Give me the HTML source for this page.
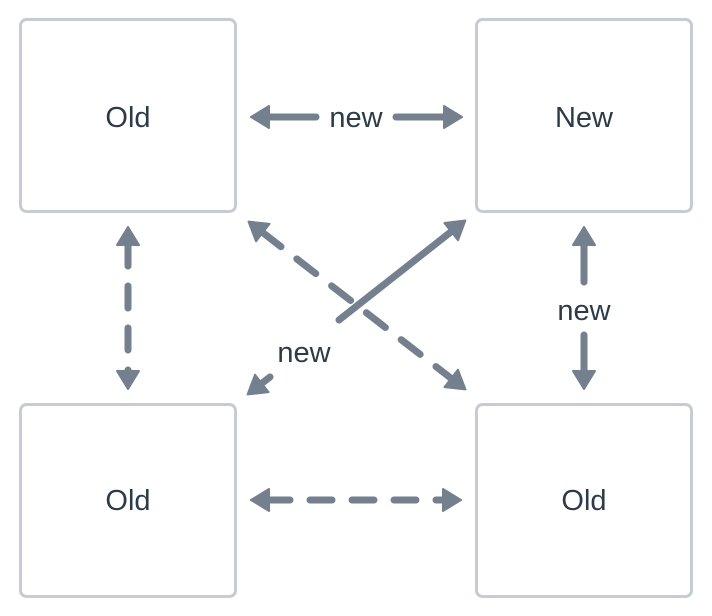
<!DOCTYPE html>
<html><head><meta charset="utf-8"><style>
html,body{margin:0;padding:0;background:#fff;width:712px;height:616px;overflow:hidden}
</style></head><body>
<svg width="712" height="616" viewBox="0 0 712 616" xmlns="http://www.w3.org/2000/svg">
<defs>
<marker id="h" viewBox="-2 -1 24 24" refX="1" refY="11" markerWidth="24" markerHeight="24" markerUnits="userSpaceOnUse" orient="auto-start-reverse">
<path d="M0,0 L18,11 L0,22 Z" fill="#75808e" stroke="#75808e" stroke-width="2" stroke-linejoin="round"/>
</marker>
</defs>
<g fill="#fff" stroke="#c5ccd4" stroke-width="3">
<rect x="20.5" y="19.5" width="215" height="192" rx="6"/>
<rect x="476.5" y="19.5" width="215" height="192" rx="6"/>
<rect x="20.5" y="404.5" width="215" height="192" rx="6"/>
<rect x="476.5" y="404.5" width="215" height="192" rx="6"/>
</g>
<g font-family="Liberation Sans, sans-serif" font-size="29" fill="#2d3a48" text-anchor="middle">
<text x="128" y="127">Old</text>
<text x="584" y="127">New</text>
<text x="128" y="510">Old</text>
<text x="584" y="510">Old</text>
</g>
<g stroke="#75808e" stroke-width="7" stroke-linecap="round" fill="none">
<path d="M316,117 L268,117" marker-end="url(#h)"/>
<path d="M396,117 L445,117" marker-end="url(#h)"/>
<path d="M128,244 L128,372" stroke-dasharray="22 20" marker-start="url(#h)" marker-end="url(#h)"/>
<path d="M584,282 L584,244" marker-end="url(#h)"/>
<path d="M584,335 L584,372" marker-end="url(#h)"/>
<path d="M268,500 L444,500" stroke-dasharray="22 20" marker-start="url(#h)" marker-end="url(#h)"/>
<path d="M262,232 L452,379" stroke-dasharray="24 20" marker-start="url(#h)" marker-end="url(#h)"/>
<path d="M339,320 L452,231" marker-end="url(#h)"/>
<path d="M270,377 L261,384" marker-end="url(#h)"/>
</g>
<g font-family="Liberation Sans, sans-serif" font-size="29" fill="#2d3a48" text-anchor="middle">
<text x="356" y="127">new</text>
<text x="584" y="320">new</text>
<text x="304" y="362">new</text>
</g>
</svg>
</body></html>
